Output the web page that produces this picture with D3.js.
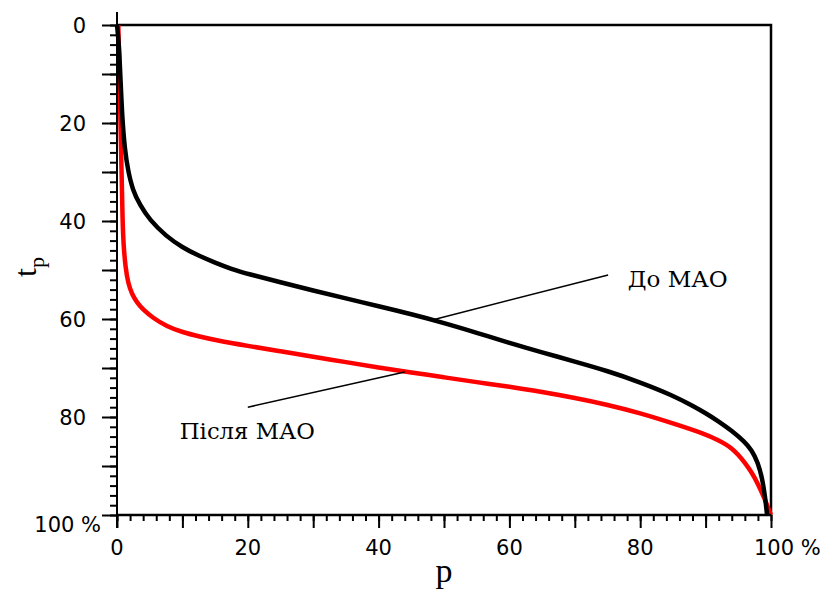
<!DOCTYPE html>
<html>
<head>
<meta charset="utf-8">
<script src="https://cdn.jsdelivr.net/npm/d3@7"></script>
<style>
  html, body { margin: 0; padding: 0; background: #fff; }
  .tick-label { font-family: 'DejaVu Sans', sans-serif; font-size: 21px; fill: #000; }
  .serif { font-family: 'Liberation Serif', 'Times New Roman', serif; fill: #000; }
  .note { font-family: 'DejaVu Serif', serif; fill: #000; }
</style>
</head>
<body>
<div id="chart"></div>
<script>
// До МАО (black)
const pBefore = [0, 0.3, 0.5, 0.8, 1.2, 1.7, 2.4, 3.5, 5, 7.5, 10, 12.5, 15, 17.5, 20, 25, 30, 35, 40, 45, 50, 55, 60, 65, 70, 75, 80, 85, 88, 90, 92, 94, 96, 97, 98, 98.7, 99.1, 99.4]
const tBefore = [0, 4, 10, 19, 25.5, 29.8, 33.7, 36.7, 39.8, 43.1, 45.4, 47.1, 48.5, 49.8, 50.8, 52.5, 54.2, 55.8, 57.4, 59, 60.8, 62.8, 64.9, 66.8, 68.7, 70.6, 72.9, 75.6, 77.7, 79.2, 80.9, 82.8, 85.1, 86.7, 89.2, 92.8, 96.3, 100]

// Після МАО (red)
const pAfter = [0.2, 0.45, 0.7, 0.85, 1.0, 1.3, 1.7, 2.3, 3.1, 4, 5.5, 7.6, 10, 12.7, 15, 20, 25, 30, 35, 40, 45, 50, 55, 60, 65, 70, 75, 80, 85, 90, 92, 93, 94, 95, 96, 97, 98, 99, 100]
const tAfter = [0, 15, 30, 40, 45, 49.5, 52.7, 55, 56.7, 58.1, 59.8, 61.5, 62.7, 63.6, 64.3, 65.5, 66.6, 67.7, 68.8, 69.9, 70.9, 71.9, 72.9, 73.8, 74.9, 76.1, 77.5, 79.2, 81.3, 83.5, 84.8, 85.5, 86.4, 87.7, 89.3, 91.2, 93.6, 96.6, 100]

const xTickLabels = [0, 20, 40, 60, 80]
const yTickLabels = [0, 20, 40, 60, 80]

// annotations in data units: [label, textP, textT, lineP1, lineT1, lineP2, lineT2]
const annotations = [
  ['До МАО', 78.1, 53.5, 75.1, 51.0, 48.2, 60.2],
  ['Після МАО', 9.6, 84.5, 20.0, 78.0, 44.0, 70.8],
]

const width = 832
const height = 589

const x = d3.scaleLinear().domain([0, 100]).range([117, 771])
const y = d3.scaleLinear().domain([0, 100]).range([25, 515])

const svg = d3.select('#chart').append('svg')
  .attr('width', width)
  .attr('height', height)

// frame (top and right)
svg.append('path')
  .attr('d', `M${x(0)},${y(0)}H${x(100)}V${y(100)}`)
  .attr('fill', 'none')
  .attr('stroke', '#000')
  .attr('stroke-width', 2.5)

// curves
const line = d3.line()
  .x(d => x(d[0]))
  .y(d => y(d[1]))
  .curve(d3.curveBasis)

svg.append('path')
  .datum(pAfter.map((p, i) => [p, tAfter[i]]))
  .attr('d', line)
  .attr('fill', 'none')
  .attr('stroke', '#ff0000')
  .attr('stroke-width', 4.5)

svg.append('path')
  .datum(pBefore.map((p, i) => [p, tBefore[i]]))
  .attr('d', line)
  .attr('fill', 'none')
  .attr('stroke', '#000')
  .attr('stroke-width', 4.5)

// axes: minor and major ticks
function styleAxis(g) {
  g.select('.domain').remove()
  g.selectAll('.tick line').attr('stroke', '#000').attr('stroke-width', 2)
}

svg.append('g')
  .attr('transform', `translate(0,${y(100)})`)
  .call(d3.axisBottom(x).tickValues(d3.range(0, 101, 2)).tickSize(6).tickFormat(''))
  .call(styleAxis)
svg.append('g')
  .attr('transform', `translate(0,${y(100)})`)
  .call(d3.axisBottom(x).tickValues(d3.range(0, 101, 10)).tickSize(13).tickFormat(''))
  .call(styleAxis)

svg.append('g')
  .attr('transform', `translate(${x(0)},0)`)
  .call(d3.axisLeft(y).tickValues(d3.range(0, 101, 2)).tickSize(7).tickFormat(''))
  .call(styleAxis)
svg.append('g')
  .attr('transform', `translate(${x(0)},0)`)
  .call(d3.axisLeft(y).tickValues(d3.range(0, 101, 10)).tickSize(15).tickFormat(''))
  .call(styleAxis)

// axis lines
svg.append('line')
  .attr('x1', x(0)).attr('x2', x(0))
  .attr('y1', y(0) - 13).attr('y2', y(100) + 13)
  .attr('stroke', '#000').attr('stroke-width', 2)
svg.append('line')
  .attr('x1', x(0)).attr('x2', x(100))
  .attr('y1', y(100)).attr('y2', y(100))
  .attr('stroke', '#000').attr('stroke-width', 2.5)

// tick labels
svg.selectAll('.xl')
  .data(xTickLabels)
  .join('text')
  .attr('class', 'tick-label')
  .attr('x', d => x(d))
  .attr('y', y(100) + 40)
  .attr('text-anchor', 'middle')
  .text(d => d)

svg.append('text')
  .attr('class', 'tick-label')
  .attr('x', x(100) - 17)
  .attr('y', y(100) + 40)
  .text('100 %')

svg.selectAll('.yl')
  .data(yTickLabels)
  .join('text')
  .attr('class', 'tick-label')
  .attr('x', 86)
  .attr('y', d => y(d) + 8)
  .attr('text-anchor', 'end')
  .text(d => d)

svg.append('text')
  .attr('class', 'tick-label')
  .attr('x', 101)
  .attr('y', y(100) + 17)
  .attr('text-anchor', 'end')
  .text('100 %')

// axis titles
svg.append('text')
  .attr('class', 'serif')
  .attr('x', 444)
  .attr('y', 582)
  .attr('text-anchor', 'middle')
  .attr('font-size', 34)
  .text('p')

const yTitle = svg.append('text')
  .attr('class', 'serif')
  .attr('transform', 'translate(36,267) rotate(-90)')
  .attr('text-anchor', 'middle')
  .attr('font-size', 32)
yTitle.append('tspan').text('t')
yTitle.append('tspan').attr('font-size', 22).attr('dy', 8).text('p')

// annotations
annotations.forEach(([label, tp, tt, p1, t1, p2, t2]) => {
  svg.append('line')
    .attr('x1', x(p1)).attr('y1', y(t1))
    .attr('x2', x(p2)).attr('y2', y(t2))
    .attr('stroke', '#000').attr('stroke-width', 1.5)
  svg.append('text')
    .attr('class', 'note')
    .attr('x', x(tp))
    .attr('y', y(tt))
    .attr('font-size', 23)
    .attr('textLength', label.length > 6 ? 135 : 100)
    .attr('lengthAdjust', 'spacingAndGlyphs')
    .text(label)
})
</script>
</body>
</html>
